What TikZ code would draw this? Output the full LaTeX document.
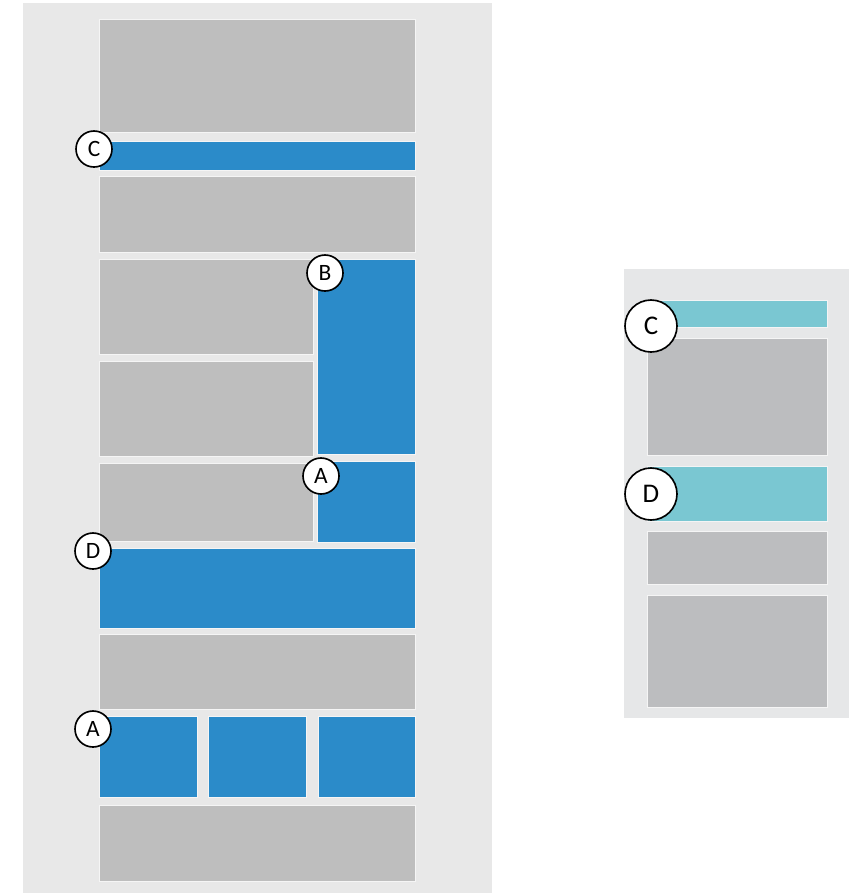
\documentclass[tikz,border=0pt]{standalone}
\usepackage{fontspec}
\setsansfont{Carlito}
\usetikzlibrary{positioning}
\definecolor{PanelGrey}{HTML}{E8E8E8}
\definecolor{PanelGreyB}{HTML}{E6E7E8}
\definecolor{BlockGrey}{HTML}{BEBEBE}
\definecolor{BlockGreyB}{HTML}{BCBDBF}
\definecolor{SlotBlue}{HTML}{2B8BC9}
\definecolor{SlotTeal}{HTML}{7AC7D2}
\tikzset{
    panel/.style={fill=PanelGrey},
    greyblock/.style={fill=BlockGrey,draw=white!55!PanelGrey,line width=0.5pt},
    blueblock/.style={fill=SlotBlue,draw=white!55!PanelGrey,line width=0.5pt},
    tealblock/.style={fill=SlotTeal,draw=white!55!PanelGreyB,line width=0.5pt},
    tag/.style={circle,draw=black,fill=white,line width=1.4pt,minimum size=10.8mm,inner sep=0pt,font=\sffamily\fontsize{20}{20}\selectfont},
    bigtag/.style={tag,minimum size=15.6mm,font=\sffamily\fontsize{23}{23}\selectfont}
}
\begin{document}
\begin{tikzpicture}[x=0.3mm,y=-0.3mm]
\useasboundingbox (0,0) rectangle (856,895);

				% wide page
				\fill[panel] (23,3) rectangle (492,893);
				\filldraw[greyblock] (99,19) rectangle (415,132);
				\filldraw[blueblock] (99,141) rectangle (415,170);
				\filldraw[greyblock] (99,176) rectangle (415,252);
				\filldraw[greyblock] (99,259) rectangle (313,354);
				\filldraw[blueblock] (317,259) rectangle (415,454);
				\filldraw[greyblock] (99,361) rectangle (313,456);
				\filldraw[greyblock] (99,463) rectangle (313,541);
				\filldraw[blueblock] (317,461) rectangle (415,542);
				\filldraw[blueblock] (99,548) rectangle (415,628);
				\filldraw[greyblock] (99,634) rectangle (415,709);
				\filldraw[blueblock] (99,716) rectangle (197,797);
				\filldraw[blueblock] (208,716) rectangle (306,797);
				\filldraw[blueblock] (318,716) rectangle (415,797);
				\filldraw[greyblock] (99,805) rectangle (415,881);
				
				% narrow page
				\fill[PanelGreyB] (624,269) rectangle (849,718);
				\filldraw[tealblock] (647,300) rectangle (827,327);
				\filldraw[greyblock,fill=BlockGreyB] (647,338) rectangle (827,455);
				\filldraw[tealblock] (647,466) rectangle (827,521);
				\filldraw[greyblock,fill=BlockGreyB] (647,531) rectangle (827,584);
				\filldraw[greyblock,fill=BlockGreyB] (647,595) rectangle (827,707);
				
				% labels
				\node[tag] (c1) at (94,149) {C};
				\node[tag] (b1) at (325,273) {B};
				\node[tag] (a1) at (321,476) {A};
				\node[tag] (d1) at (93,551) {D};
				\node[tag] (a2) at (93,729) {A};
				\node[bigtag] (c2) at (651,326) {C};
				\node[bigtag] (d2) at (651,494) {D};
\end{tikzpicture}
\end{document}
